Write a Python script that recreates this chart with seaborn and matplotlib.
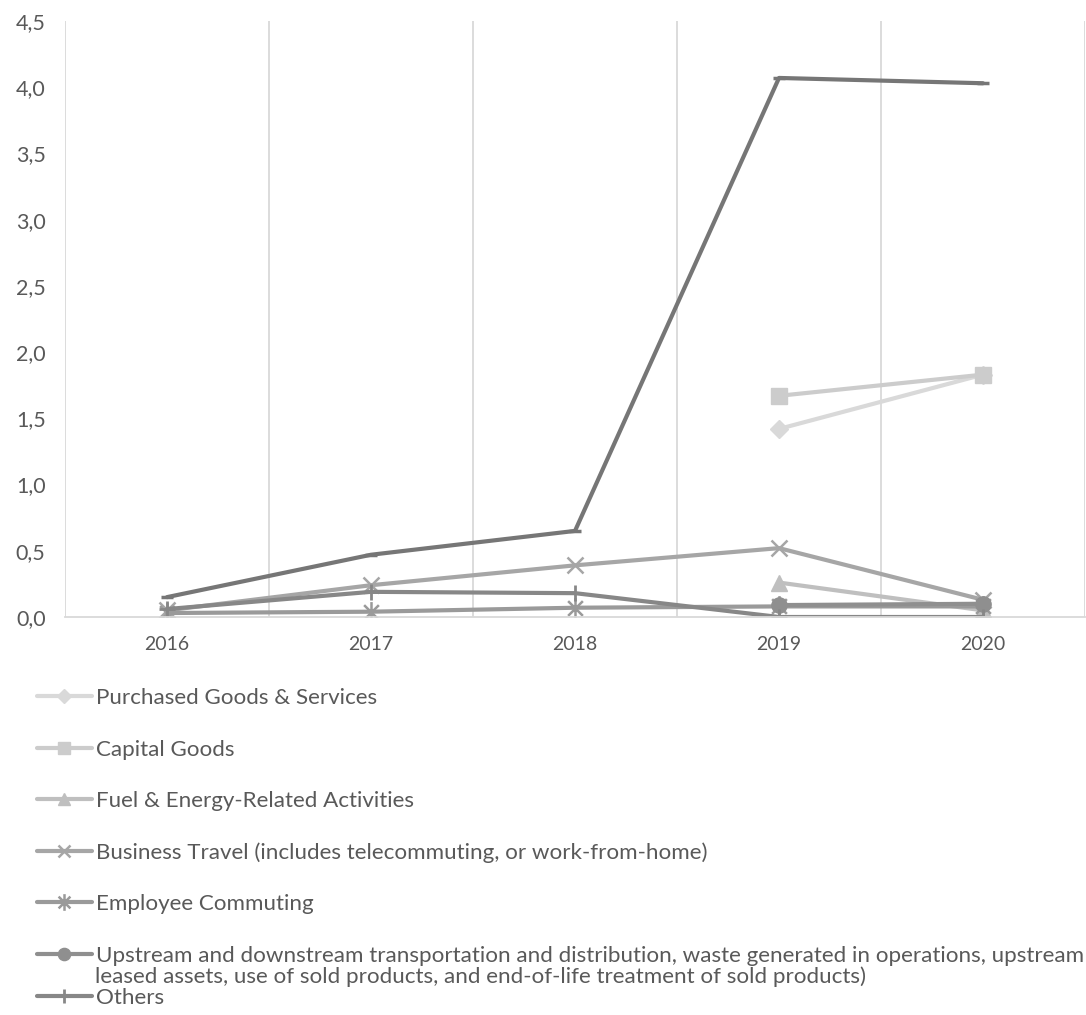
import numpy as np
import pandas as pd
import matplotlib
matplotlib.use("Agg")
import matplotlib.pyplot as plt
from matplotlib.ticker import FuncFormatter, FixedLocator
from matplotlib.lines import Line2D
from matplotlib.path import Path
import seaborn as sns

sns.set_theme(style="white")
plt.rcParams["font.family"] = ["Lato", "DejaVu Sans"]

years = ["2016", "2017", "2018", "2019", "2020"]

purchased_goods = [np.nan, np.nan, np.nan, 1.42, 1.83]
capital_goods = [np.nan, np.nan, np.nan, 1.67, 1.83]
fuel_energy = [np.nan, np.nan, np.nan, 0.26, 0.05]
business_travel = [0.05, 0.24, 0.39, 0.52, 0.13]
employee_commuting = [0.03, 0.04, 0.07, 0.08, 0.08]
upstream_downstream = [np.nan, np.nan, np.nan, 0.09, 0.10]
others = [0.06, 0.19, 0.18, 0.00, 0.00]
total = [0.15, 0.47, 0.65, 4.07, 4.03]

labels = [
    "Purchased Goods & Services",
    "Capital Goods",
    "Fuel & Energy-Related Activities",
    "Business Travel (includes telecommuting, or work-from-home)",
    "Employee Commuting",
    "Upstream and downstream transportation and distribution, waste generated in operations, upstream",
    "Others",
]
upstream_second_line = "leased assets, use of sold products, and end-of-life treatment of sold products)"

# asterisk marker: an "x" crossed by a vertical bar
_d = 0.7071
asterisk = Path(
    [(-_d, -_d), (_d, _d), (-_d, _d), (_d, -_d), (0, -1), (0, 1)],
    [Path.MOVETO, Path.LINETO, Path.MOVETO, Path.LINETO, Path.MOVETO, Path.LINETO],
)

series = [
    (labels[0], purchased_goods, "#d9d9d9", "D", 9, 1.0),
    (labels[1], capital_goods, "#cccccc", "s", 11, 1.0),
    (labels[2], fuel_energy, "#bfbfbf", "^", 11, 1.0),
    (labels[3], business_travel, "#a6a6a6", "x", 11, 1.8),
    (labels[4], employee_commuting, "#9a9a9a", asterisk, 15, 1.8),
    (labels[5], upstream_downstream, "#8f8f8f", "o", 11, 1.0),
    (labels[6], others, "#878787", "+", 12, 2.0),
    ("Total", total, "#767676", "_", 9, 2.5),
]

W, H = 1086, 1015
fig = plt.figure(figsize=(W / 100, H / 100), dpi=100)
ax = fig.add_axes([65 / W, 1 - 617 / H, (1085 - 65) / W, (617 - 21) / H])

x_idx = np.arange(len(years))
handles = []
for name, vals, color, marker, ms, mew in series:
    df = pd.DataFrame({"x": x_idx, "y": vals}).dropna()
    sns.lineplot(data=df, x="x", y="y", ax=ax, color=color, linewidth=3.0,
                 marker=marker, markersize=ms, markeredgewidth=mew,
                 markeredgecolor=color, markerfacecolor=color, legend=False)
    if name != "Total":
        handles.append(Line2D([], [], color=color, linewidth=3.0, marker=marker,
                              markersize=ms * 0.8, markeredgewidth=mew,
                              markeredgecolor=color, markerfacecolor=color))

ax.set_xlim(-0.5, 4.5)
ax.set_ylim(0, 4.5)
ax.set_yticks(np.arange(0, 4.51, 0.5))
ax.yaxis.set_major_formatter(FuncFormatter(lambda v, p: f"{v:.1f}".replace(".", ",")))
ax.set_xticks(x_idx)
ax.set_xticklabels(years)
ax.xaxis.set_minor_locator(FixedLocator(np.arange(-0.5, 4.6, 1.0)))
ax.grid(False)
ax.grid(which="minor", axis="x", color="#d9d9d9", linewidth=1.3)
ax.tick_params(axis="both", which="both", length=0)
ax.tick_params(axis="y", labelsize=15.5, labelcolor="#595959", pad=14)
ax.tick_params(axis="x", labelsize=14, labelcolor="#595959", pad=14)
ax.set_xlabel("")
ax.set_ylabel("")
for s in ["top", "right", "left"]:
    ax.spines[s].set_visible(False)
ax.spines["bottom"].set_color("#d9d9d9")
ax.spines["bottom"].set_linewidth(1.3)
ax.set_facecolor("white")

# legend rows, one per series, stacked under the plot
row_y = [698, 750, 801, 853, 904, 956, 998]
fs = 16.1
for h, lab, yy in zip(handles, labels, row_y):
    fig.legend(handles=[h], labels=[lab], loc="center left",
               bbox_to_anchor=(37 / W, 1 - yy / H), frameon=False,
               borderpad=0, borderaxespad=0, handlelength=2.45,
               handletextpad=0.2, fontsize=fs, labelcolor="#595959")
fig.text(95 / W, 1 - 977 / H, upstream_second_line, fontsize=fs,
         color="#595959", va="center", ha="left")

fig.savefig("out.png", dpi=100, facecolor="white")
